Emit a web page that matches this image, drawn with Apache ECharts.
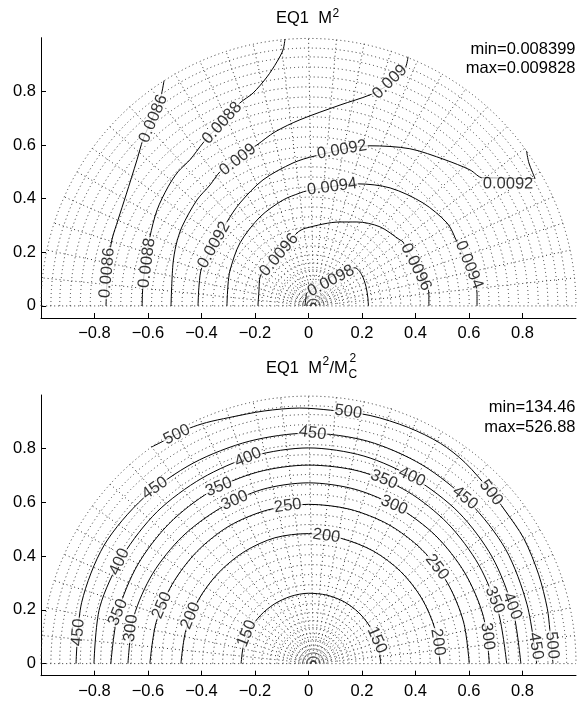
<!DOCTYPE html>
<html>
<head>
<meta charset="utf-8">
<script src="https://cdn.jsdelivr.net/npm/echarts@6.0.0/dist/echarts.min.js"></script>
<style>
html, body { margin: 0; padding: 0; background: #fff; }
#chart { width: 587px; height: 702px; }
</style>
</head>
<body>
<div id="chart"></div>
<script>
// tick labels
var xTicks = [-0.8, -0.6, -0.4, -0.2, 0, 0.2, 0.4, 0.6, 0.8];
var yTicks = [0, 0.2, 0.4, 0.6, 0.8];

// dotted computational mesh (arc radius / arc centre x, radial line angles)
var meshRadii = [0.008, 0.015, 0.022, 0.034, 0.049, 0.067, 0.09, 0.112, 0.135, 0.161, 0.191, 0.224, 0.258, 0.295, 0.333, 0.37, 0.407, 0.445, 0.482, 0.52, 0.557, 0.594, 0.632, 0.669, 0.707, 0.744, 0.781, 0.819, 0.856, 0.893, 0.931, 0.964, 1.0];
var meshCenterX = [0.018, 0.018, 0.018, 0.018, 0.018, 0.018, 0.018, 0.017, 0.017, 0.016, 0.015, 0.015, 0.014, 0.013, 0.012, 0.012, 0.011, 0.01, 0.009, 0.009, 0.008, 0.007, 0.007, 0.006, 0.005, 0.005, 0.004, 0.003, 0.003, 0.002, 0.001, 0.001, 0];
var meshAngles = [0, 6, 12, 18, 24, 30, 36, 42, 48, 54, 60, 66, 72, 78, 84, 90, 96, 102, 108, 114, 120, 126, 132, 138, 144, 150, 156, 162, 168, 174, 180];

// upper plot: EQ1 M^2 contours, [x, y]
var m2c0086 = [[-0.54,0.84],[-0.555,0.768],[-0.585,0.697],[-0.619,0.619],[-0.641,0.545],[-0.682,0.414],[-0.712,0.321],[-0.735,0.246],[-0.746,0.172],[-0.753,0.097],[-0.757,0]];
var m2c0088 = [[-0.088,0.995],[-0.095,0.955],[-0.118,0.91],[-0.155,0.854],[-0.207,0.794],[-0.256,0.757],[-0.323,0.686],[-0.394,0.608],[-0.443,0.545],[-0.488,0.5],[-0.525,0.444],[-0.566,0.358],[-0.593,0.257],[-0.607,0.172],[-0.619,0.078],[-0.622,0]];
var m2c009 = [[0.372,0.929],[0.361,0.887],[0.297,0.824],[0.23,0.787],[0.118,0.749],[-0.032,0.694],[-0.125,0.649],[-0.193,0.6],[-0.264,0.552],[-0.331,0.5],[-0.368,0.451],[-0.417,0.395],[-0.473,0.295],[-0.495,0.227],[-0.507,0.153],[-0.514,0]];
var m2c0092 = [[-0.413,0],[-0.409,0.078],[-0.398,0.145],[-0.305,0.313],[-0.256,0.384],[-0.17,0.47],[-0.058,0.533],[0.024,0.559],[0.23,0.597],[0.379,0.586],[0.51,0.545],[0.604,0.507],[0.652,0.477],[0.847,0.475],[0.824,0.533],[0.815,0.578]];
var m2c0094 = [[-0.305,0],[-0.301,0.078],[-0.293,0.134],[-0.256,0.235],[-0.181,0.332],[-0.095,0.395],[-0.032,0.421],[-0.006,0.429],[0.185,0.455],[0.305,0.44],[0.428,0.384],[0.518,0.309],[0.548,0.254],[0.63,0.048],[0.63,0]];
var m2c0096 = [[-0.189,0],[-0.185,0.06],[-0.181,0.108],[-0.043,0.272],[-0.01,0.29],[0.118,0.313],[0.181,0.313],[0.267,0.295],[0.342,0.246],[0.353,0.239],[0.45,0.041],[0.45,0]];
var m2c0098 = [[-0.013,0],[-0.009,0.034],[-0.006,0.048],[0.174,0.142],[0.199,0.116],[0.215,0.072],[0.222,0.03],[0.224,0]];
// label anchors [x, y, level]
var m2Labels = [
  [-0.58,0.698,'0.0086'], [-0.753,0.123,'0.0086'],
  [-0.323,0.682,'0.0088'], [-0.604,0.16,'0.0088'],
  [0.304,0.835,'0.009'], [-0.264,0.545,'0.009'],
  [-0.353,0.227,'0.0092'], [0.125,0.582,'0.0092'], [0.746,0.455,'0.0092'],
  [0.088,0.444,'0.0094'], [0.6,0.153,'0.0094'],
  [-0.11,0.19,'0.0096'], [0.402,0.145,'0.0096'],
  [0.084,0.093,'0.0098']
];
var m2Min = 'min=0.008399', m2Max = 'max=0.009828';

// lower plot: EQ1 M^2/Mc^2 contours, [angle deg, radius]
var mc150 = [[0,0.27],[15,0.269],[30,0.268],[45,0.267],[60,0.266],[75,0.264],[90,0.262],[105,0.259],[120,0.256],[135,0.254],[150,0.253],[165,0.252],[180,0.252]];
var mc200 = [[0,0.492],[15,0.49],[30,0.488],[45,0.486],[60,0.484],[75,0.482],[90,0.484],[105,0.485],[120,0.481],[135,0.477],[150,0.475],[165,0.475],[180,0.477]];
var mc250 = [[0,0.601],[15,0.6],[30,0.6],[45,0.6],[60,0.598],[75,0.595],[90,0.593],[105,0.592],[120,0.592],[135,0.59],[150,0.589],[165,0.59],[180,0.593]];
var mc300 = [[0,0.676],[15,0.677],[30,0.675],[45,0.673],[60,0.671],[75,0.672],[90,0.673],[105,0.671],[120,0.666],[135,0.668],[150,0.672],[165,0.676],[180,0.675]];
var mc350 = [[0,0.741],[15,0.735],[30,0.735],[45,0.737],[60,0.74],[75,0.741],[90,0.739],[105,0.738],[120,0.738],[135,0.737],[150,0.737],[165,0.737],[180,0.739]];
var mc400 = [[0,0.794],[15,0.79],[30,0.793],[45,0.795],[60,0.795],[75,0.8],[90,0.803],[105,0.8],[120,0.797],[135,0.8],[150,0.802],[165,0.808],[180,0.802]];
var mc450 = [[0,0.853],[15,0.846],[30,0.851],[45,0.85],[60,0.853],[75,0.857],[90,0.858],[105,0.857],[120,0.862],[135,0.872],[150,0.882],[165,0.878],[180,0.869]];
var mc500 = [[0,0.914],[8,0.911],[13,0.916],[21,0.922],[30,0.93],[38,0.93],[43,0.935],[52,0.95],[59,0.957],[67,0.955],[76,0.952],[85,0.947],[92,0.952],[100,0.955],[108,0.963],[113,0.975],[117,0.983],[122,0.988],[126,0.997]];
// label anchors [angle deg, radius, level]
var mcLabels = [
  [154,0.256,'150'], [19,0.27,'150'],
  [82,0.48,'200'], [158,0.475,'200'], [9.4,0.49,'200'],
  [97.5,0.592,'250'], [158.4,0.589,'250'], [36.8,0.6,'250'],
  [114.4,0.667,'300'], [168.8,0.677,'300'], [61.5,0.671,'300'], [8.6,0.677,'300'],
  [117,0.738,'350'], [165,0.737,'350'], [67.6,0.741,'350'], [18.8,0.735,'350'],
  [106.4,0.8,'400'], [151.8,0.802,'400'], [60.9,0.795,'400'], [15.7,0.79,'400'],
  [172.3,0.869,'450'], [131.3,0.87,'450'], [89,0.858,'450'], [46.5,0.85,'450'], [4.4,0.852,'450'],
  [120,0.984,'500'], [81,0.949,'500'], [43,0.933,'500'], [4.3,0.913,'500']
];
var mcMin = 'min=134.46', mcMax = 'max=526.88';

var FONT = '"Liberation Sans", Arial, Helvetica, sans-serif';
var FS = 16.5;

function toXY(list) {
  return list.map(function (p) {
    var a = p[0] * Math.PI / 180;
    return [p[1] * Math.cos(a), p[1] * Math.sin(a)];
  });
}

var m2Contours = { '0.0086': m2c0086, '0.0088': m2c0088, '0.009': m2c009, '0.0092': m2c0092, '0.0094': m2c0094, '0.0096': m2c0096, '0.0098': m2c0098 };
var mcContours = { '150': toXY(mc150), '200': toXY(mc200), '250': toXY(mc250), '300': toXY(mc300), '350': toXY(mc350), '400': toXY(mc400), '450': toXY(mc450), '500': toXY(mc500) };

// label direction follows the nearest piece of its contour
function tangentAngle(pt, line) {
  var best = Infinity, ang = 0;
  for (var i = 0; i < line.length - 1; i++) {
    var a = line[i], b = line[i + 1];
    var dx = b[0] - a[0], dy = b[1] - a[1];
    var l2 = dx * dx + dy * dy;
    var t = l2 ? ((pt[0] - a[0]) * dx + (pt[1] - a[1]) * dy) / l2 : 0;
    t = Math.max(0, Math.min(1, t));
    var ex = a[0] + t * dx - pt[0], ey = a[1] + t * dy - pt[1];
    var d = ex * ex + ey * ey;
    if (d < best) { best = d; ang = Math.atan2(dy, dx) * 180 / Math.PI; }
  }
  if (ang > 90) ang -= 180;
  if (ang <= -90) ang += 180;
  return ang;
}

function labelData(list, contours, polar) {
  return list.map(function (l) {
    var p = polar ? toXY([[l[0], l[1]]])[0] : [l[0], l[1]];
    return { name: l[2], value: p, label: { rotate: tangentAngle(p, contours[l[2]]) } };
  });
}

function meshSeries(idx) {
  var dash = { stroke: '#333', fill: 'none', lineWidth: 1, lineDash: [1, 3] };
  return [{
    type: 'custom', xAxisIndex: idx, yAxisIndex: idx, z: 1, silent: true,
    data: meshRadii.map(function (r, i) { return [r, meshCenterX[i]]; }),
    renderItem: function (params, api) {
      var c = api.coord([api.value(1), 0]);
      var rr = api.size([api.value(0), 0])[0];
      return { type: 'arc', shape: { cx: c[0], cy: c[1], r: rr, startAngle: Math.PI, endAngle: 2 * Math.PI }, style: dash };
    }
  }, {
    type: 'custom', xAxisIndex: idx, yAxisIndex: idx, z: 1, silent: true,
    data: meshAngles.map(function (a) { return [a, 0]; }),
    renderItem: function (params, api) {
      var a = api.value(0) * Math.PI / 180;
      var pts = meshRadii.map(function (r, i) {
        return api.coord([meshCenterX[i] + r * Math.cos(a), r * Math.sin(a)]);
      });
      return { type: 'polyline', shape: { points: pts }, style: dash };
    }
  }];
}

function contourSeries(idx, contours) {
  return Object.keys(contours).map(function (k) {
    return {
      type: 'line', xAxisIndex: idx, yAxisIndex: idx, z: 3, silent: true,
      data: contours[k], showSymbol: false, smooth: 0.3,
      lineStyle: { color: '#000', width: 1 }
    };
  });
}

function labelSeries(idx, data) {
  return {
    type: 'scatter', xAxisIndex: idx, yAxisIndex: idx, z: 5, silent: true,
    symbolSize: 0.1, itemStyle: { color: 'transparent' },
    data: data,
    label: {
      show: true, position: 'inside', formatter: '{b}',
      fontFamily: FONT, fontSize: FS, color: '#000',
      backgroundColor: '#fff', padding: [0, 1], lineHeight: 12
    }
  };
}

function xAxisOpt(idx) {
  return {
    gridIndex: idx, type: 'value', min: -1, max: 1,
    axisLine: { show: true, onZero: false, lineStyle: { color: '#000', width: 1 } },
    axisTick: { show: true, inside: true, length: 5, customValues: xTicks, lineStyle: { color: '#000' } },
    axisLabel: {
      customValues: xTicks, margin: 7, color: '#000', fontFamily: FONT, fontSize: FS,
      formatter: function (v) { return v < 0 ? '\u2212' + (-v) : String(v); }
    },
    splitLine: { show: false }
  };
}
function yAxisOpt(idx) {
  return {
    gridIndex: idx, type: 'value', min: -0.045, max: 1,
    axisLine: { show: true, onZero: false, lineStyle: { color: '#000', width: 1 } },
    axisTick: { show: true, inside: true, length: 5, customValues: yTicks, lineStyle: { color: '#000' } },
    axisLabel: { customValues: yTicks, margin: 5, color: '#000', fontFamily: FONT, fontSize: FS },
    splitLine: { show: false }
  };
}

function txt(s, x, y, size, align) {
  return {
    type: 'text', x: x, y: y, silent: true, z: 10,
    style: { text: s, fill: '#000', font: size + 'px ' + FONT, align: align || 'left', verticalAlign: 'middle' }
  };
}

var chart = echarts.init(document.getElementById('chart'));
chart.setOption({
  animation: false,
  backgroundColor: '#fff',
  grid: [
    { left: 41, right: 11, top: 37.7, height: 280.3, outerBoundsMode: 'none' },
    { left: 41, right: 11, top: 395, height: 280.7, outerBoundsMode: 'none' }
  ],
  xAxis: [xAxisOpt(0), xAxisOpt(1)],
  yAxis: [yAxisOpt(0), yAxisOpt(1)],
  series: [].concat(
    meshSeries(0), meshSeries(1),
    contourSeries(0, m2Contours), contourSeries(1, mcContours),
    [labelSeries(0, labelData(m2Labels, m2Contours, false)),
     labelSeries(1, labelData(mcLabels, mcContours, true))]
  ),
  graphic: [
    txt('EQ1  M', 276, 18.5, FS), txt('2', 332.5, 14, 12),
    txt(m2Min, 575.5, 49, FS, 'right'), txt(m2Max, 575.5, 68, FS, 'right'),
    txt('EQ1  M', 266, 368, FS), txt('2', 322.5, 362, 12), txt('/M', 329.5, 368, FS),
    txt('C', 348.5, 375, 12), txt('2', 349.5, 359, 12),
    txt(mcMin, 575.5, 407.5, FS, 'right'), txt(mcMax, 575.5, 427.5, FS, 'right')
  ]
});
</script>
</body>
</html>
